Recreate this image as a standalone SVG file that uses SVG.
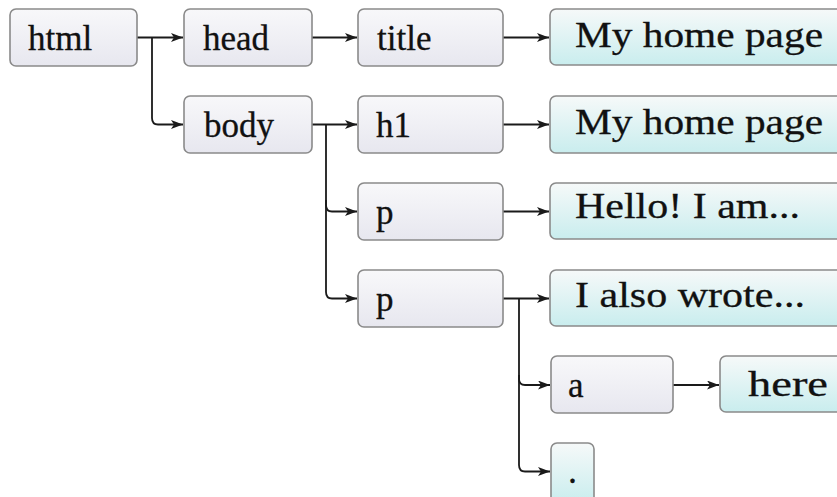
<svg xmlns="http://www.w3.org/2000/svg" width="837" height="497" viewBox="0 0 837 497">
  <style>
    .g { fill: url(#gGray); stroke: #8a8a8a; stroke-width: 1.6; }
    .t { fill: url(#gTeal); stroke: #8a8a8a; stroke-width: 1.6; }
    .lbl { font-family: "Liberation Serif", "Times New Roman", serif; font-size: 35px; fill: #111111; stroke: #111111; stroke-width: 0.3; }
    .lblT { font-family: "Liberation Serif", "Times New Roman", serif; font-size: 36px; fill: #111111; stroke: #111111; stroke-width: 0.3; }
    .c { fill: none; stroke: #1a1a1a; stroke-width: 1.8; marker-end: url(#arr); }
  </style>
  <defs>
    <linearGradient id="gGray" x1="0" y1="0" x2="0" y2="1">
      <stop offset="0" stop-color="#f8f8fa"/>
      <stop offset="1" stop-color="#e7e7ef"/>
    </linearGradient>
    <linearGradient id="gTeal" x1="0" y1="0" x2="0" y2="1">
      <stop offset="0" stop-color="#f6f9f9"/>
      <stop offset="1" stop-color="#c9edee"/>
    </linearGradient>
    <marker id="arr" viewBox="0 0 12 9" refX="12" refY="4.5" markerWidth="12" markerHeight="9" markerUnits="userSpaceOnUse" orient="auto">
      <path d="M0,0 L12,4.5 L0,9 L3,4.5 Z" fill="#1a1a1a"/>
    </marker>
  </defs>
  <rect width="837" height="497" fill="#ffffff"/>

  <g id="connectors">
    <path class="c" d="M137,37.5 H183"/>
    <path class="c" d="M152,37.5 V118 Q152,124.5 158,124.5 H183"/>
    <path class="c" d="M312,37.5 H357"/>
    <path class="c" d="M503,37.5 H549"/>
    <path class="c" d="M312,124.5 H357"/>
    <path class="c" d="M326,124.5 V205 Q326,211.5 332,211.5 H357"/>
    <path class="c" d="M326,200 V292 Q326,298.5 332,298.5 H357"/>
    <path class="c" d="M503,124.5 H549"/>
    <path class="c" d="M503,211.5 H549"/>
    <path class="c" d="M503,298.5 H549"/>
    <path class="c" d="M519,298.5 V379 Q519,385 525,385 H550"/>
    <path class="c" d="M519,375 V465 Q519,471.5 525,471.5 H550"/>
    <path class="c" d="M673,385 H719"/>
  </g>

  <g id="html"><rect class="g" x="10" y="9" width="127" height="57" rx="6"/><text class="lbl" x="28" y="50">html</text></g>
  <g id="head"><rect class="g" x="184" y="9" width="128" height="57" rx="6"/><text class="lbl" x="203" y="50">head</text></g>
  <g id="body"><rect class="g" x="184" y="96" width="128" height="57" rx="6"/><text class="lbl" x="204" y="137">body</text></g>
  <g id="title"><rect class="g" x="358" y="9" width="145" height="57" rx="6"/><text class="lbl" x="377" y="50">title</text></g>
  <g id="h1"><rect class="g" x="358" y="96" width="145" height="57" rx="6"/><text class="lbl" x="376" y="137">h1</text></g>
  <g id="p1"><rect class="g" x="358" y="183" width="145" height="57" rx="6"/><text class="lbl" x="376" y="224">p</text></g>
  <g id="p2"><rect class="g" x="358" y="270" width="145" height="57" rx="6"/><text class="lbl" x="376" y="311">p</text></g>
  <g id="a"><rect class="g" x="551" y="356" width="122" height="57" rx="6"/><text class="lbl" x="568" y="397">a</text></g>

  <g id="text-title"><rect class="t" x="550" y="9" width="310" height="56" rx="6"/><text class="lblT" x="575" y="47" textLength="248" lengthAdjust="spacingAndGlyphs">My home page</text></g>
  <g id="text-h1"><rect class="t" x="550" y="96" width="310" height="57" rx="6"/><text class="lblT" x="575" y="134" textLength="248" lengthAdjust="spacingAndGlyphs">My home page</text></g>
  <g id="text-p1"><rect class="t" x="550" y="183" width="310" height="56" rx="6"/><text class="lblT" x="575" y="218" textLength="225" lengthAdjust="spacingAndGlyphs">Hello! I am...</text></g>
  <g id="text-p2"><rect class="t" x="550" y="270" width="310" height="56" rx="6"/><text class="lblT" x="575" y="307" textLength="230" lengthAdjust="spacingAndGlyphs">I also wrote...</text></g>
  <g id="text-a"><rect class="t" x="720" y="356" width="140" height="56" rx="6"/><text class="lblT" x="748" y="396" textLength="80" lengthAdjust="spacingAndGlyphs">here</text></g>
  <g id="text-dot"><rect class="t" x="551" y="443" width="43" height="60" rx="6"/><text class="lblT" x="568" y="483">.</text></g>
</svg>
